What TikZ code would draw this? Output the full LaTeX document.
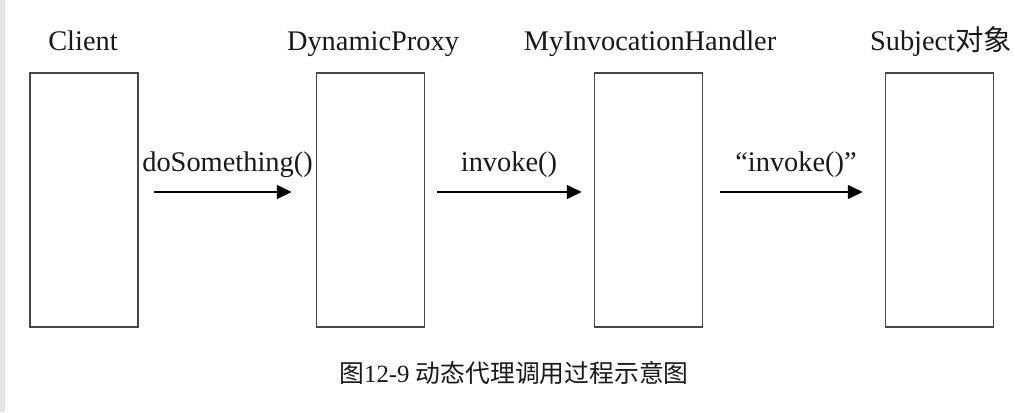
\documentclass[tikz,border=0pt]{standalone}
\usepackage{fontspec}
\setmainfont{Liberation Serif}
\newfontfamily\cjk{Noto Sans CJK SC}
\usetikzlibrary{arrows.meta}
\begin{document}
\begin{tikzpicture}[x=0.5pt,y=-0.5pt,
  lifebox/.style={draw=black!72,line width=0.75pt,minimum width=54pt,minimum height=127pt,inner sep=0pt},
  title/.style={font=\fontsize{14.2pt}{16pt}\selectfont,anchor=base,inner sep=0pt,text=black!90},
  msg/.style={font=\fontsize{14.2pt}{16pt}\selectfont,anchor=base,inner sep=0pt,text=black!90},
  arr/.style={line width=0.75pt,-{Triangle[length=7.5pt,width=7pt]}}]
\useasboundingbox (0,0) rectangle (1015,412);
\fill[white] (0,0) rectangle (1015,412);
\fill[black!10] (0,0) rectangle (5,412);
% boxes
\node[lifebox] (client) at (84,200) {};
\node[lifebox] (proxy) at (370.5,200) {};
\node[lifebox] (handler) at (648.5,200) {};
\node[lifebox] (subject) at (939.5,200) {};
% titles
\node[title] (tclient) at (83,50) {Client};
\node[title] (tproxy) at (373,50) {DynamicProxy};
\node[title] (thandler) at (650,50) {MyInvocationHandler};
\node[title] (tsubject) at (941,50) {Subject{\cjk 对象}};
% arrows
\draw[arr,shorten <=7.5pt,shorten >=12pt] ([yshift=4pt]client.east) -- ([yshift=4pt]proxy.west);
\draw[arr,shorten <=6pt,shorten >=6pt] ([yshift=4pt]proxy.east) -- ([yshift=4pt]handler.west);
\draw[arr,shorten <=8.5pt,shorten >=11pt] ([yshift=4pt]handler.east) -- ([yshift=4pt]subject.west);
% labels
\node[msg] (m1) at (227.5,171) {doSomething()};
\node[msg] (m2) at (509,171) {invoke()};
\node[msg] (m3) at (796,171) {“invoke()”};
% caption
\node[anchor=base,inner sep=0pt,font=\fontsize{12.4pt}{14pt}\selectfont,text=black!90] (caption) at (514,382) {{\cjk 图}12-9 {\cjk 动态代理调用过程示意图}};
\end{tikzpicture}
\end{document}
